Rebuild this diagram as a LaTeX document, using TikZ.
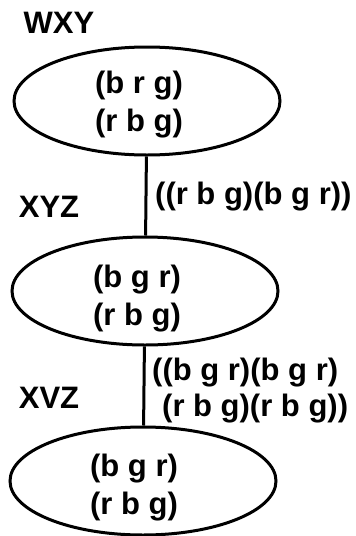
\documentclass[tikz,border=0pt]{standalone}
\usepackage{fontspec}
\setmainfont{Liberation Sans}
\usetikzlibrary{shapes.geometric}

\begin{document}
\begin{tikzpicture}[x=1pt,y=-1pt,
    state/.style={draw,ellipse,line width=3pt,minimum width=266pt,minimum height=108pt,inner sep=0pt},
    lbl/.style={font=\fontsize{31}{38}\selectfont\bfseries,inner sep=0pt}]
    \useasboundingbox (0,0) rectangle (356,536);
    \node[state] (wxy) at (147,101) {};
    \node[state] (xyz) at (145,291) {};
    \node[state] (xvz) at (143,481) {};
    \node[lbl,align=center] (swxy) at (139,105) {(b r g)\\(r b g)};
    \node[lbl,align=center] (sxyz) at (137,299) {(b g r)\\(r b g)};
    \node[lbl,align=center] (sxvz) at (134,488) {(b g r)\\(r b g)};
    \node[lbl] (twxy) at (59,23) {WXY};
    \node[lbl] (txyz) at (49,207) {XYZ};
    \node[lbl] (txvz) at (49,398) {XVZ};
    \draw[line width=3pt] (wxy) -- (xyz);
    \draw[line width=3pt] (xyz) -- (xvz);
    \node[lbl,anchor=west] (e1) at (155,197) {((r b g)(b g r))};
    \node[lbl,anchor=west,align=left,font=\fontsize{31}{36}\selectfont\bfseries] (e2) at (152,391) {((b g r)(b g r)\\\hspace{10pt}(r b g)(r b g))};
\end{tikzpicture}
\end{document}
